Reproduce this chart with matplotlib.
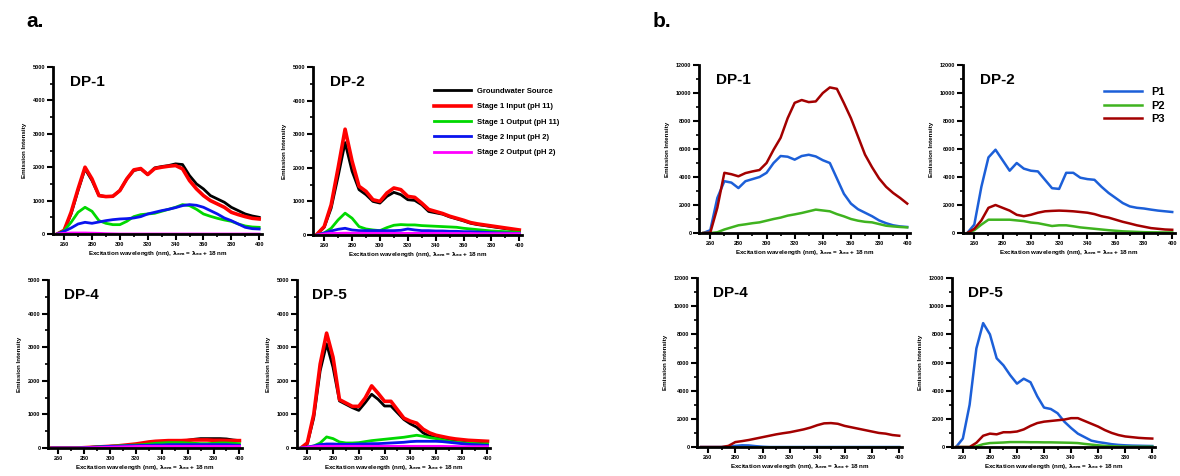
"""
Synchronous fluorescence spectra for the DP wells: treatment stages (a) and P1-P3 (b).
"""
import numpy as np
import matplotlib.pyplot as plt
from matplotlib.ticker import MultipleLocator, AutoMinorLocator

plt.rcParams['font.family'] = ['Liberation Sans', 'DejaVu Sans']
plt.rcParams['font.weight'] = 'bold'

# excitation wavelength grid (nm)
wl = np.arange(255, 401, 5)

stage_labels = ['Groundwater Source', 'Stage 1 Input (pH 11)', 'Stage 1 Output (pH 11)',
                'Stage 2 Input (pH 2)', 'Stage 2 Output (pH 2)']
stage_colors = ['#000000', '#ff0000', '#00d800', '#0a14ee', '#ff00ff']
stage_widths = [2.0, 2.6, 2.0, 2.0, 2.0]

# panel a, DP-1
a1_gw = [0, 100, 600, 1300, 1950, 1600, 1150, 1120, 1130, 1300, 1650, 1900, 1950, 1780, 1980,
         2020, 2050, 2100, 2080, 1750, 1500, 1350, 1150, 1050, 950, 800, 700, 600, 540, 500]
a1_s1in = [0, 110, 650, 1350, 2000, 1650, 1150, 1120, 1130, 1300, 1650, 1920, 1960, 1780, 1960,
           2000, 2030, 2050, 1950, 1600, 1350, 1150, 1000, 900, 800, 650, 580, 520, 470, 450]
a1_s1out = [0, 100, 350, 650, 800, 680, 400, 320, 280, 280, 380, 520, 580, 600, 620,
            680, 740, 800, 880, 850, 740, 600, 530, 470, 420, 380, 300, 240, 210, 200]
a1_s2in = [0, 80, 180, 300, 350, 320, 360, 400, 430, 450, 460, 480, 520, 600, 650,
           700, 740, 790, 850, 880, 860, 800, 700, 600, 480, 400, 300, 200, 160, 150]
a1_s2out = [0, 20, 30, 30, 30, 25, 20, 10, 5, 0, 0, 0, 0, 0, 0,
            0, 0, 0, 0, 0, 0, 0, 0, 0, 0, 0, 0, 0, 0, 0]

# panel a, DP-2
a2_gw = [30, 230, 800, 1750, 2750, 1900, 1350, 1200, 1000, 950, 1150, 1270, 1200, 1050, 1030,
         900, 700, 660, 620, 540, 480, 420, 350, 310, 280, 250, 220, 190, 160, 130]
a2_s1in = [30, 250, 900, 2000, 3150, 2200, 1450, 1300, 1050, 1000, 1250, 1400, 1350, 1150, 1120,
           950, 760, 700, 640, 560, 500, 440, 370, 330, 300, 270, 240, 210, 180, 150]
a2_s1out = [0, 60, 200, 450, 650, 500, 250, 180, 150, 130, 220, 290, 310, 300, 300,
            280, 270, 260, 250, 240, 230, 200, 180, 160, 140, 120, 110, 100, 90, 80]
a2_s2in = [0, 60, 120, 170, 200, 150, 130, 130, 130, 130, 130, 130, 140, 180, 150,
           130, 130, 120, 120, 110, 110, 100, 100, 90, 80, 70, 60, 60, 50, 50]
a2_s2out = [0, 30, 50, 50, 55, 55, 55, 50, 50, 50, 50, 50, 50, 50, 50,
            50, 50, 50, 50, 45, 45, 45, 45, 40, 40, 40, 40, 40, 40, 40]

# panel a, DP-4
a4_gw = [0, 0, 0, 0, 0, 10, 20, 30, 40, 50, 60, 70, 80, 100, 120,
         140, 160, 180, 190, 200, 210, 230, 260, 280, 280, 280, 280, 270, 240, 220]
a4_s1in = [0, 0, 0, 0, 0, 10, 20, 30, 40, 50, 60, 80, 100, 120, 150,
           180, 200, 210, 220, 220, 220, 230, 240, 240, 240, 230, 230, 225, 220, 220]
a4_s1out = [0, 0, 0, 0, 0, 10, 20, 30, 40, 50, 60, 70, 80, 90, 100,
            120, 140, 150, 160, 160, 160, 150, 140, 130, 130, 140, 150, 150, 140, 130]
a4_s2in = [0, 0, 0, 0, 0, 10, 20, 30, 40, 50, 50, 60, 70, 70, 80,
           80, 90, 90, 100, 100, 100, 100, 100, 100, 100, 100, 100, 100, 90, 80]
a4_s2out = [0, 0, 0, 0, 0, 5, 10, 15, 20, 25, 30, 35, 40, 45, 50,
            50, 50, 50, 50, 50, 50, 50, 50, 50, 50, 50, 50, 50, 50, 50]

# panel a, DP-5
a5_gw = [0, 120, 900, 2300, 3100, 2400, 1400, 1300, 1200, 1120, 1350, 1600, 1450, 1250, 1250,
         1050, 850, 720, 620, 450, 350, 320, 280, 250, 240, 230, 210, 200, 190, 180]
a5_s1in = [0, 150, 1000, 2500, 3420, 2700, 1440, 1340, 1240, 1240, 1490, 1850, 1630, 1390, 1390,
           1140, 890, 800, 740, 560, 450, 380, 340, 300, 270, 250, 230, 220, 210, 200]
a5_s1out = [0, 20, 60, 150, 330, 280, 180, 150, 150, 160, 190, 220, 240, 260, 280,
            300, 320, 350, 380, 350, 310, 280, 240, 200, 170, 150, 140, 130, 120, 120]
a5_s2in = [0, 30, 60, 100, 120, 120, 110, 110, 110, 120, 120, 130, 130, 140, 150,
           160, 170, 190, 200, 200, 200, 200, 190, 170, 150, 130, 110, 100, 90, 80]
a5_s2out = [0, 20, 40, 50, 50, 50, 50, 50, 50, 50, 50, 50, 50, 50, 50,
            50, 50, 50, 50, 50, 50, 50, 50, 45, 45, 40, 40, 40, 40, 40]

p_labels = ['P1', 'P2', 'P3']
p_colors = ['#1c5fd8', '#3fb31f', '#a30000']

# panel b, DP-1
b1_p1 = [0, 200, 2500, 3700, 3600, 3210, 3700, 3850, 4000, 4300, 5000, 5500, 5450, 5240, 5500,
         5590, 5470, 5200, 5000, 3900, 2800, 2100, 1700, 1450, 1200, 900, 700, 550, 470, 430]
b1_p2 = [0, 0, 50, 250, 400, 550, 620, 700, 760, 880, 1000, 1100, 1240, 1330, 1430,
         1550, 1670, 1610, 1550, 1350, 1190, 1000, 880, 800, 760, 640, 520, 470, 430, 400]
b1_p3 = [0, 20, 1800, 4300, 4200, 4050, 4280, 4400, 4500, 5000, 5950, 6800, 8200, 9300, 9500,
         9350, 9400, 10000, 10400, 10300, 9280, 8200, 6900, 5600, 4700, 3900, 3300, 2860, 2500, 2100]

# panel b, DP-2
b2_p1 = [0, 600, 3300, 5400, 5950, 5200, 4450, 5000, 4600, 4450, 4400, 3800, 3200, 3150, 4300,
         4300, 3950, 3850, 3800, 3300, 2860, 2500, 2140, 1900, 1800, 1750, 1670, 1600, 1550, 1500]
b2_p2 = [0, 200, 600, 950, 950, 950, 950, 900, 850, 750, 700, 600, 500, 550, 550,
         480, 400, 350, 300, 250, 200, 160, 120, 100, 80, 60, 50, 45, 40, 40]
b2_p3 = [0, 300, 900, 1800, 2000, 1800, 1600, 1300, 1200, 1300, 1450, 1550, 1580, 1600, 1580,
         1550, 1500, 1450, 1350, 1200, 1100, 950, 800, 680, 550, 450, 350, 300, 250, 230]

# panel b, DP-4
b4_p1 = [0, 0, 0, 0, 30, 80, 120, 110, 60, 20, 0, 0, 0, 0, 0,
         0, 0, 0, 0, 0, 0, 0, 0, 0, 0, 0, 0, 0, 0, 0]
b4_p2 = [0] * 30
b4_p3 = [0, 0, 0, 0, 80, 350, 420, 500, 600, 700, 800, 900, 980, 1050, 1150,
         1250, 1380, 1550, 1680, 1700, 1650, 1500, 1400, 1300, 1200, 1100, 1000, 950, 850, 800]

# panel b, DP-5
b5_p1 = [0, 600, 3000, 7000, 8800, 8000, 6300, 5800, 5100, 4500, 4850, 4600, 3600, 2800, 2700,
         2400, 1800, 1350, 950, 700, 450, 350, 280, 200, 150, 120, 100, 90, 80, 70]
b5_p2 = [0, 0, 0, 50, 200, 280, 300, 320, 350, 350, 350, 340, 340, 330, 330,
         320, 310, 300, 280, 220, 170, 120, 80, 60, 40, 30, 20, 20, 20, 20]
b5_p3 = [0, 0, 0, 300, 800, 950, 900, 1050, 1050, 1100, 1250, 1500, 1700, 1800, 1850,
         1900, 1950, 2050, 2050, 1850, 1650, 1450, 1200, 1000, 850, 750, 700, 650, 620, 600]

xlabel = 'Excitation wavelength (nm), $\\mathbf{\\lambda_{em}}$ = $\\mathbf{\\lambda_{ex}}$ + 18 nm'
ylabel = 'Emission Intensity'


def style_axis(ax, title, ymax, ystep):
    ax.set_xlim(252, 402)
    ax.set_ylim(0, ymax)
    ax.xaxis.set_major_locator(MultipleLocator(20))
    ax.xaxis.set_minor_locator(AutoMinorLocator(2))
    ax.yaxis.set_major_locator(MultipleLocator(ystep))
    ax.yaxis.set_minor_locator(AutoMinorLocator(2))
    ax.set_xticks(np.arange(260, 401, 20))
    for side in ['top', 'right']:
        ax.spines[side].set_visible(False)
    for side in ['left', 'bottom']:
        ax.spines[side].set_linewidth(2)
    ax.tick_params(which='major', length=4, width=1.5, labelsize=4, pad=1.5)
    ax.tick_params(which='minor', length=2.5, width=1.2)
    ax.set_xlabel(xlabel, fontsize=4.5, fontweight='bold', labelpad=2)
    ax.set_ylabel(ylabel, fontsize=4.5, fontweight='bold', labelpad=4)
    ax.text(0.08, 0.95, title, transform=ax.transAxes, fontsize=11,
            fontweight='bold', va='top', ha='left')


fig = plt.figure(figsize=(11.8, 4.76), dpi=100)

a_pos = {'DP-1': [0.0449, 0.5084, 0.1771, 0.3508],
         'DP-2': [0.2653, 0.5063, 0.1771, 0.3529],
         'DP-4': [0.0407, 0.0588, 0.1644, 0.3529],
         'DP-5': [0.2517, 0.0588, 0.1636, 0.3529]}
b_pos = {'DP-1': [0.5924, 0.5105, 0.1788, 0.3529],
         'DP-2': [0.8161, 0.5105, 0.1797, 0.3529],
         'DP-4': [0.5907, 0.0609, 0.1737, 0.3550],
         'DP-5': [0.8068, 0.0609, 0.1720, 0.3550]}

a_data = {'DP-1': [a1_gw, a1_s1in, a1_s1out, a1_s2in, a1_s2out],
          'DP-2': [a2_gw, a2_s1in, a2_s1out, a2_s2in, a2_s2out],
          'DP-4': [a4_gw, a4_s1in, a4_s1out, a4_s2in, a4_s2out],
          'DP-5': [a5_gw, a5_s1in, a5_s1out, a5_s2in, a5_s2out]}
b_data = {'DP-1': [b1_p1, b1_p2, b1_p3],
          'DP-2': [b2_p1, b2_p2, b2_p3],
          'DP-4': [b4_p1, b4_p2, b4_p3],
          'DP-5': [b5_p1, b5_p2, b5_p3]}

for name, series in a_data.items():
    ax = fig.add_axes(a_pos[name])
    for vals, lab, col, lw in zip(series, stage_labels, stage_colors, stage_widths):
        ax.plot(wl, vals, color=col, lw=lw, label=lab)
    style_axis(ax, name, 5000, 1000)
    if name == 'DP-2':
        ax.legend(loc='upper left', bbox_to_anchor=(0.56, 0.90), frameon=False,
                  fontsize=5.5, handlelength=4.8, labelspacing=1.05,
                  borderpad=0, handletextpad=0.9,
                  prop={'weight': 'bold', 'size': 5.5})

for name, series in b_data.items():
    ax = fig.add_axes(b_pos[name])
    for vals, lab, col in zip(series, p_labels, p_colors):
        ax.plot(wl, vals, color=col, lw=1.8, label=lab)
    style_axis(ax, name, 12000, 2000)
    if name == 'DP-2':
        ax.legend(loc='upper left', bbox_to_anchor=(0.64, 0.90), frameon=False,
                  handlelength=3.4, labelspacing=0.3, borderpad=0,
                  handletextpad=0.8, prop={'weight': 'bold', 'size': 8})

fig.text(0.022, 0.975, 'a.', fontsize=15, fontweight='bold', va='top')
fig.text(0.553, 0.975, 'b.', fontsize=15, fontweight='bold', va='top')

fig.savefig('out.png', dpi=100)
